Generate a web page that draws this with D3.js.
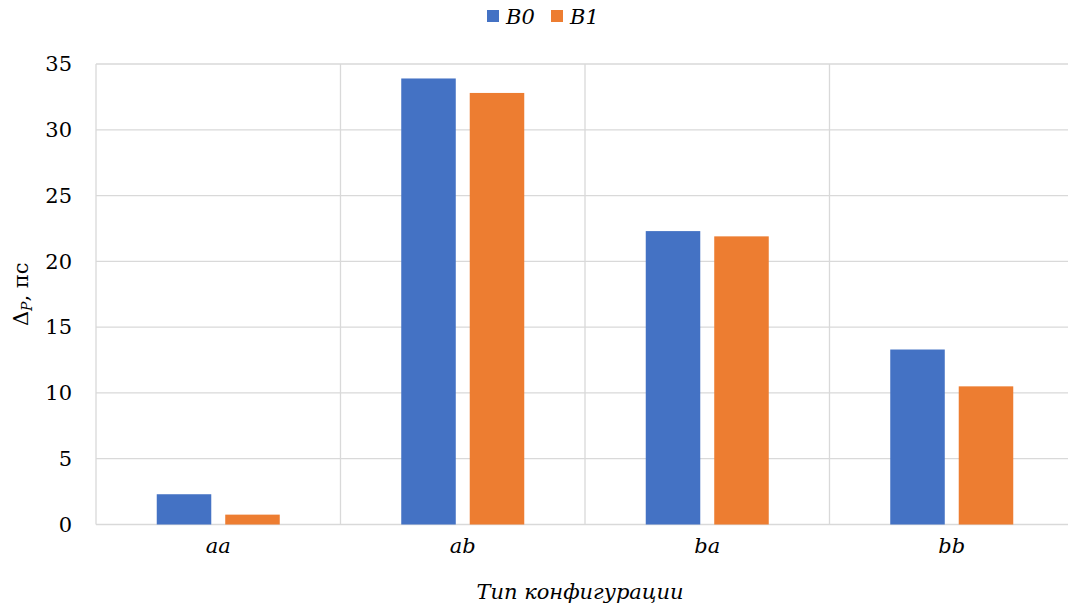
<!DOCTYPE html>
<html><head><meta charset="utf-8">
<script src="https://cdn.jsdelivr.net/npm/d3@7"></script>
<style>body{margin:0;background:#fff}svg{display:block}svg text{font-family:"DejaVu Serif","Liberation Serif",serif}</style>
</head><body>
<script>
const categories = ["aa", "ab", "ba", "bb"];
const series = ["B0", "B1"];
const valuesB0 = [2.3, 33.9, 22.3, 13.3];
const valuesB1 = [0.75, 32.8, 21.9, 10.5];
const yTicks = [0, 5, 10, 15, 20, 25, 30, 35];
const colors = ["#4472c4", "#ed7d31"];
const seriesValues = [valuesB0, valuesB1];

const W = 1068, H = 611;
const m = {left: 96, right: -6, top: 64, bottom: 86.5};
const svg = d3.select("body").append("svg").attr("width", W).attr("height", H);

const x0 = d3.scaleBand().domain(categories).range([m.left, W - m.right]).padding(0);
const x1 = d3.scaleBand().domain(series).range([0, x0.bandwidth()]).paddingInner(0.204).paddingOuter(0.887);
const y = d3.scaleLinear().domain([0, 35]).range([H - m.bottom, m.top]);

const g = svg.append("g");
g.selectAll("line.h").data(yTicks).join("line")
  .attr("x1", m.left).attr("x2", W - m.right)
  .attr("y1", d => y(d)).attr("y2", d => y(d))
  .attr("stroke", "#d9d9d9").attr("stroke-width", 1.3);
const bounds = categories.map(c => x0(c)).concat([x0.range()[1]]);
g.selectAll("line.v").data(bounds).join("line")
  .attr("x1", d => d).attr("x2", d => d)
  .attr("y1", y(35)).attr("y2", y(0))
  .attr("stroke", "#d9d9d9").attr("stroke-width", 1.3);

categories.forEach((c, i) => {
  series.forEach((s, j) => {
    const v = seriesValues[j][i];
    svg.append("rect")
      .attr("x", x0(c) + x1(s)).attr("width", x1.bandwidth())
      .attr("y", y(v)).attr("height", y(0) - y(v))
      .attr("fill", colors[j]);
  });
});

svg.selectAll("text.yt").data(yTicks).join("text")
  .attr("x", 72).attr("y", d => y(d)).attr("dy", "0.35em")
  .attr("text-anchor", "end").attr("font-size", 21)
  .attr("fill", "#000").text(d => d);

svg.selectAll("text.xt").data(categories).join("text")
  .attr("x", d => x0(d) + x0.bandwidth() / 2).attr("y", 553)
  .attr("text-anchor", "middle").attr("font-size", 21)
  .attr("font-style", "italic").attr("fill", "#000").text(d => d);

svg.append("text").attr("x", 580).attr("y", 599)
  .attr("text-anchor", "middle").attr("font-size", 21)
  .attr("font-style", "italic").text("Тип конфигурации");

const yt = svg.append("text").attr("transform", `translate(28,${(y(0)+y(35))/2}) rotate(-90)`)
  .attr("text-anchor", "middle").attr("font-size", 21);
yt.append("tspan").text("Δ");
yt.append("tspan").attr("font-style", "italic").attr("font-size", 14).attr("dy", 4).text("P");
yt.append("tspan").attr("dy", -4).text(", пс");

const leg = svg.append("g");
const legX = [487, 551];
series.forEach((s, j) => {
  leg.append("rect").attr("x", legX[j]).attr("y", 10).attr("width", 12).attr("height", 12).attr("fill", colors[j]);
  leg.append("text").attr("x", legX[j] + 19).attr("y", 24)
    .attr("font-size", 21).attr("font-style", "italic").text(s);
});
</script>
</body></html>
